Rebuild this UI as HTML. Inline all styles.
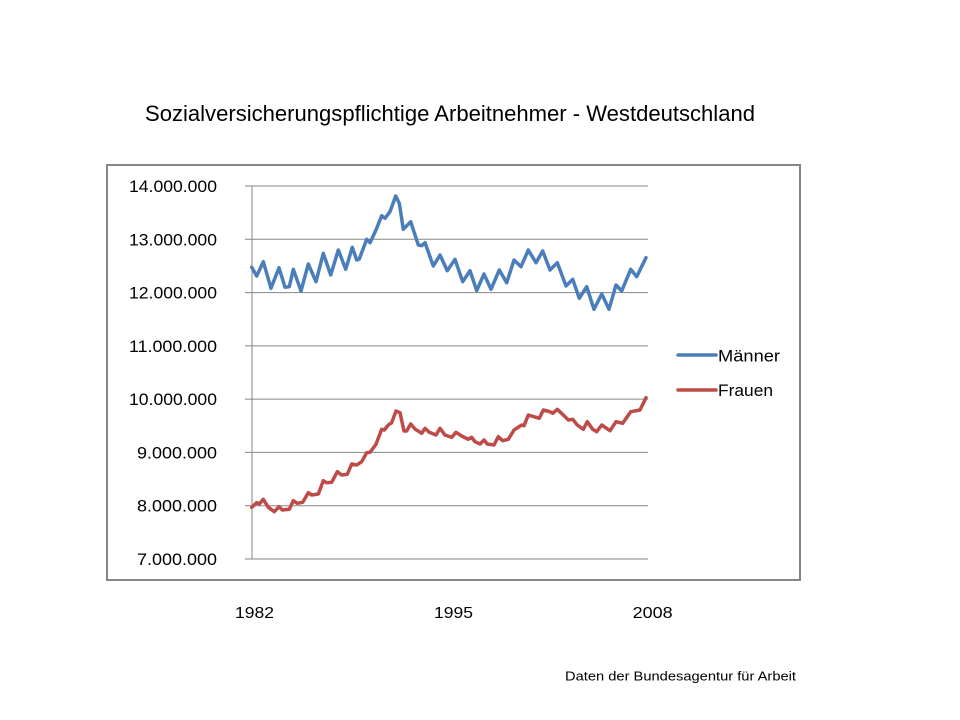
<!DOCTYPE html>
<html>
<head>
<meta charset="utf-8">
<style>
  html,body{margin:0;padding:0;background:#fff;}
  svg{display:block;}
  text{font-family:"Liberation Sans",sans-serif;fill:#000;}
</style>
</head>
<body>
<svg width="960" height="720" viewBox="0 0 960 720" xmlns="http://www.w3.org/2000/svg">
  <rect x="0" y="0" width="960" height="720" fill="#fff"/>
  <!-- title -->
  <text x="145" y="121" font-size="22" textLength="610" lengthAdjust="spacingAndGlyphs">Sozialversicherungspflichtige Arbeitnehmer - Westdeutschland</text>

  <!-- chart frame -->
  <rect x="107" y="165" width="693" height="415" fill="#fff" stroke="#868686" stroke-width="2"/>

  <!-- gridlines -->
  <g stroke="#868686" stroke-width="1">
    <line x1="245" y1="186" x2="648" y2="186"/>
    <line x1="245" y1="239.3" x2="648" y2="239.3"/>
    <line x1="245" y1="292.6" x2="648" y2="292.6"/>
    <line x1="245" y1="345.9" x2="648" y2="345.9"/>
    <line x1="245" y1="399.1" x2="648" y2="399.1"/>
    <line x1="245" y1="452.4" x2="648" y2="452.4"/>
    <line x1="245" y1="505.7" x2="648" y2="505.7"/>
    <line x1="245" y1="559" x2="648" y2="559"/>
    <line x1="252" y1="186" x2="252" y2="559"/>
  </g>

  <!-- y labels -->
  <g font-size="16.5" text-anchor="end">
    <text x="217" y="192" textLength="88" lengthAdjust="spacingAndGlyphs">14.000.000</text>
    <text x="217" y="245.3" textLength="88" lengthAdjust="spacingAndGlyphs">13.000.000</text>
    <text x="217" y="298.6" textLength="88" lengthAdjust="spacingAndGlyphs">12.000.000</text>
    <text x="217" y="351.9" textLength="88" lengthAdjust="spacingAndGlyphs">11.000.000</text>
    <text x="217" y="405.1" textLength="88" lengthAdjust="spacingAndGlyphs">10.000.000</text>
    <text x="217" y="458.4" textLength="80" lengthAdjust="spacingAndGlyphs">9.000.000</text>
    <text x="217" y="511.7" textLength="80" lengthAdjust="spacingAndGlyphs">8.000.000</text>
    <text x="217" y="565" textLength="80" lengthAdjust="spacingAndGlyphs">7.000.000</text>
  </g>

  <!-- series -->
  <polyline fill="none" stroke="#4A7EBB" stroke-width="3.5" stroke-linejoin="round" stroke-linecap="round"
    points="251.7,267.3 256.7,276 263.3,261.7 271,288.3 279,267.7 285,287.3 289.3,286.7 293.3,269.3 301,291 308.3,264 316,281.7 323.3,253.3 330.7,275 338.3,250 345.7,269.3 352.3,247.3 356.7,260 359.3,259 366.7,239.3 370,242.7 376,230 381.7,215.7 385,218.3 390,211.7 395.7,196 399.3,203.3 403.3,229.3 410.7,221.7 418.3,245 421.7,245.7 425,242.7 433.3,266 440,255 447.3,270.7 455,259.3 462.7,281.7 470,270.7 476.7,290.7 484,274 491,289.3 499.3,270 506.7,282.7 514,260 521,266.7 528.3,250 536,262.7 542.7,251 550,270 557.3,262.7 566,286 572.7,279.3 579.3,298.3 586.7,286.7 594,309.3 601.7,294 609,309.3 616,285 621.7,291 630.7,269.3 636.7,276.7 646,257.7"/>
  <polyline fill="none" stroke="#BE4B48" stroke-width="3.5" stroke-linejoin="round" stroke-linecap="round"
    points="251.7,507.3 256.7,502.7 259.3,504 263.3,499.3 268.3,507.3 274.3,511.7 279,506.7 282.3,510 289.3,509.3 293.3,500.7 297.3,503.3 302.7,502.3 308.3,492.7 311.7,495 318.3,494 323.3,480.7 326.7,482.7 331.7,482.3 337.3,471.7 341.7,475 347.3,474.3 351.7,464 356.7,465 361.7,461.7 366.7,452.7 370,452.3 376,444.3 381.7,429.3 384.3,430 388.3,425 391.7,422.7 396,411 400,412.7 404,431 406.7,431 410.7,424 415,429 421.7,433.3 425,428.3 429.3,432.3 436,435 440,428.3 445,435 451.7,437.3 456,432.3 461.7,436 468.3,439.3 471.7,437.3 475,441.7 480,444 484,440 487.3,444 494,445 498.3,436.7 502.7,440.7 508.3,439.3 514,430 521.7,425 524,425.7 528.3,415 539.3,418.3 543.3,410 550,411.7 552.7,413.3 557.3,409.3 563.3,415 568.3,420 572.7,419.3 577.3,425 583.3,429.3 587.3,421.7 592.7,429.3 596.7,431.7 601.7,425 610,430.7 616,421.7 622.7,423.3 630.7,411.7 640,410 646,397.7"/>

  <!-- legend -->
  <line x1="678" y1="355" x2="716" y2="355" stroke="#4A7EBB" stroke-width="3.5" stroke-linecap="round"/>
  <line x1="678" y1="390" x2="716" y2="390" stroke="#BE4B48" stroke-width="3.5" stroke-linecap="round"/>
  <text x="718" y="361.5" font-size="16.5" textLength="62" lengthAdjust="spacingAndGlyphs">Männer</text>
  <text x="718" y="396" font-size="16.5" textLength="55" lengthAdjust="spacingAndGlyphs">Frauen</text>

  <!-- x labels -->
  <g font-size="16" text-anchor="middle">
    <text x="254.5" y="618" textLength="39" lengthAdjust="spacingAndGlyphs">1982</text>
    <text x="453.5" y="618" textLength="39" lengthAdjust="spacingAndGlyphs">1995</text>
    <text x="652.7" y="618" textLength="40" lengthAdjust="spacingAndGlyphs">2008</text>
  </g>

  <!-- footer -->
  <text x="565" y="680.5" font-size="13" textLength="231" lengthAdjust="spacingAndGlyphs">Daten der Bundesagentur für Arbeit</text>
</svg>
</body>
</html>
